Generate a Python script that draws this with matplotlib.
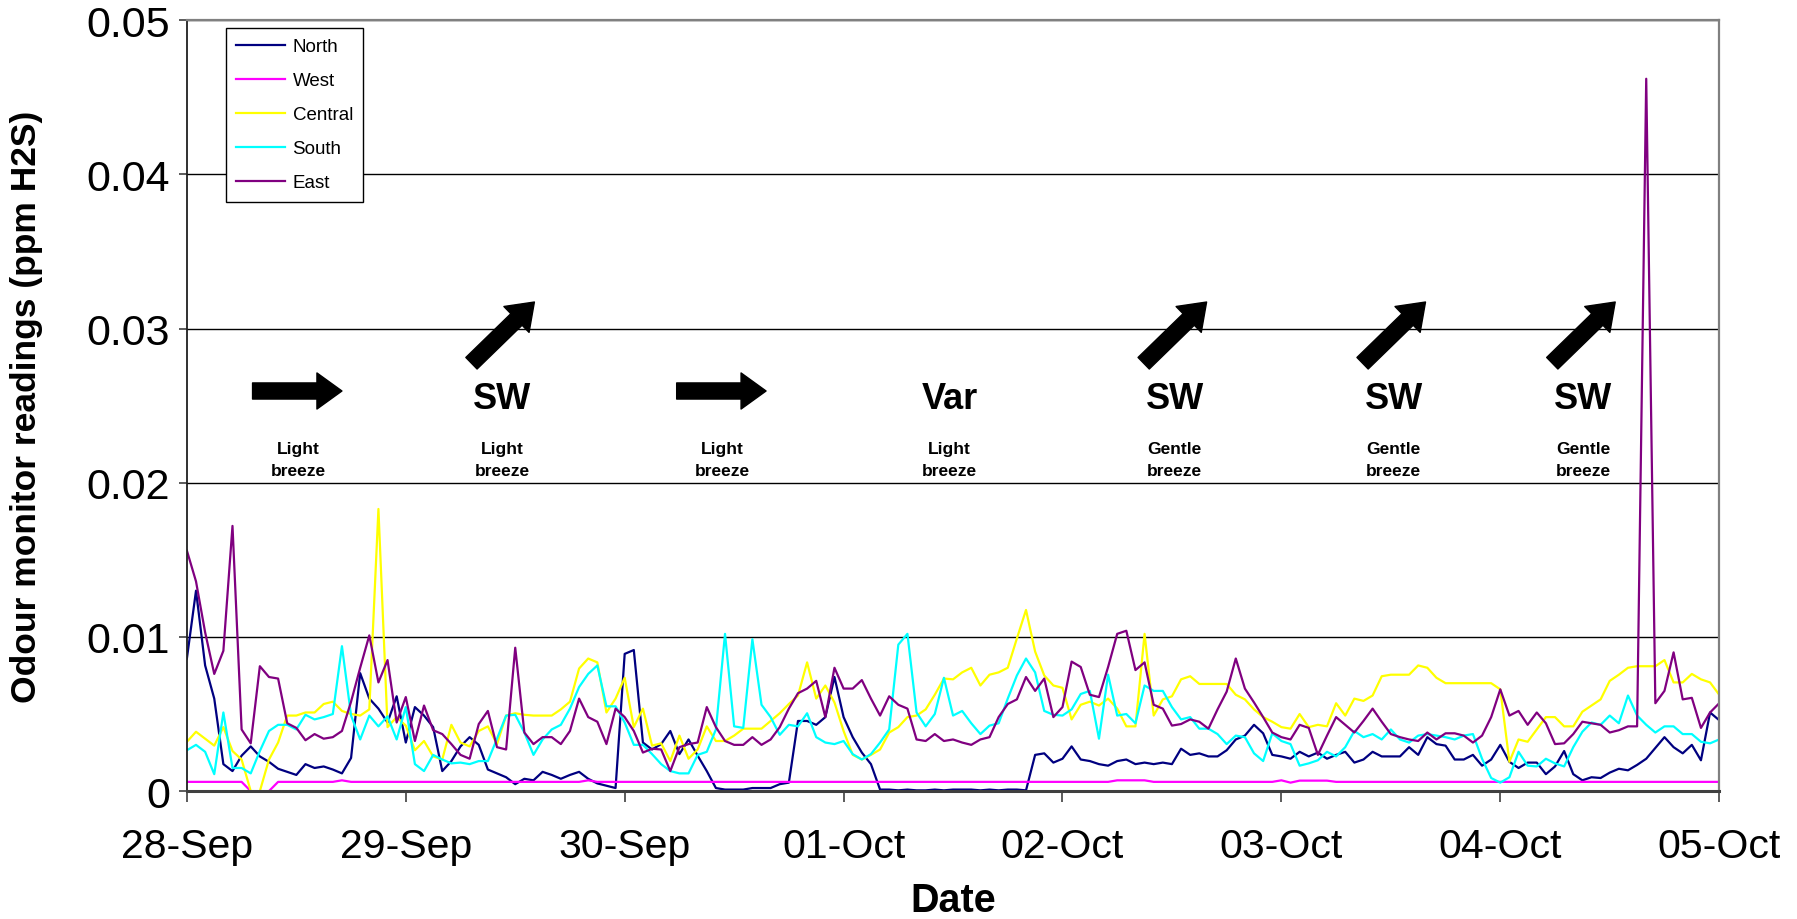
import numpy as np
import matplotlib
matplotlib.use("Agg")
import matplotlib.pyplot as plt

plt.rcParams['font.family'] = ['Liberation Sans', 'DejaVu Sans']

# hourly readings, 28-Sep 00:00 to 05-Oct 00:00, in units of 0.001 ppm H2S
north = [8.6, 13.0, 8.15, 6.0, 1.75, 1.3, 2.3, 2.9, 2.25, 1.9, 1.45, 1.25, 1.05, 1.75, 1.5, 1.6, 1.4, 1.15, 2.15, 7.65, 6.0, 5.35, 4.45, 6.15,
         3.15, 5.45, 4.9, 4.15, 1.3, 1.95, 2.9, 3.5, 3.0, 1.4, 1.15, 0.9, 0.45, 0.8, 0.7, 1.25, 1.05, 0.8, 1.05, 1.25, 0.8, 0.5, 0.35, 0.2,
         8.9, 9.15, 3.15, 2.7, 3.05, 3.9, 2.4, 3.35, 2.3, 1.3, 0.2, 0.1, 0.1, 0.1, 0.2, 0.2, 0.2, 0.45, 0.55, 4.55, 4.55, 4.3, 4.8, 7.4,
         4.8, 3.5, 2.5, 1.75, 0.1, 0.1, 0.05, 0.1, 0.05, 0.05, 0.1, 0.05, 0.1, 0.1, 0.1, 0.05, 0.1, 0.05, 0.1, 0.1, 0.05, 2.35, 2.45, 1.85,
         2.1, 2.9, 2.05, 1.95, 1.75, 1.65, 1.95, 2.05, 1.75, 1.85, 1.75, 1.85, 1.75, 2.75, 2.35, 2.45, 2.25, 2.25, 2.65, 3.35, 3.6, 4.3, 3.75, 2.35,
         2.25, 2.1, 2.55, 2.25, 2.5, 2.1, 2.35, 2.55, 1.85, 2.05, 2.55, 2.25, 2.25, 2.25, 2.85, 2.35, 3.5, 3.05, 2.95, 2.05, 2.05, 2.35, 1.65, 2.05,
         3.0, 1.9, 1.5, 1.85, 1.85, 1.1, 1.6, 2.6, 1.1, 0.7, 0.9, 0.85, 1.2, 1.45, 1.35, 1.7, 2.1, 2.8, 3.5, 2.85, 2.45, 3.0, 2.0, 5.1,
         4.6]

west = [0.6, 0.6, 0.6, 0.6, 0.6, 0.6, 0.6, 0, 0, 0, 0.6, 0.6, 0.6, 0.6, 0.6, 0.6, 0.6, 0.7, 0.6, 0.6, 0.6, 0.6, 0.6, 0.6,
        0.6, 0.6, 0.6, 0.6, 0.6, 0.6, 0.6, 0.6, 0.6, 0.6, 0.6, 0.6, 0.6, 0.6, 0.6, 0.6, 0.6, 0.6, 0.6, 0.6, 0.7, 0.6, 0.6, 0.6,
        0.6, 0.6, 0.6, 0.6, 0.6, 0.6, 0.6, 0.6, 0.6, 0.6, 0.6, 0.6, 0.6, 0.6, 0.6, 0.6, 0.6, 0.6, 0.6, 0.6, 0.6, 0.6, 0.6, 0.6,
        0.6, 0.6, 0.6, 0.6, 0.6, 0.6, 0.6, 0.6, 0.6, 0.6, 0.6, 0.6, 0.6, 0.6, 0.6, 0.6, 0.6, 0.6, 0.6, 0.6, 0.6, 0.6, 0.6, 0.6,
        0.6, 0.6, 0.6, 0.6, 0.6, 0.6, 0.7, 0.7, 0.7, 0.7, 0.6, 0.6, 0.6, 0.6, 0.6, 0.6, 0.6, 0.6, 0.6, 0.6, 0.6, 0.6, 0.6, 0.6,
        0.7, 0.55, 0.68, 0.68, 0.68, 0.68, 0.6, 0.6, 0.6, 0.6, 0.6, 0.6, 0.6, 0.6, 0.6, 0.6, 0.6, 0.6, 0.6, 0.6, 0.6, 0.6, 0.6, 0.6,
        0.6, 0.6, 0.6, 0.6, 0.6, 0.6, 0.6, 0.6, 0.6, 0.6, 0.6, 0.6, 0.6, 0.6, 0.6, 0.6, 0.6, 0.6, 0.6, 0.6, 0.6, 0.6, 0.6, 0.6,
        0.6]

central = [3.2, 3.85, 3.4, 2.95, 4.15, 2.6, 2.05, 0, 0, 2.05, 3.15, 4.9, 4.9, 5.1, 5.1, 5.65, 5.8, 5.2, 5.0, 4.9, 5.3, 18.3, 4.15, 4.8,
           4.25, 2.65, 3.25, 2.25, 2.05, 4.3, 3.15, 2.9, 3.9, 4.2, 3.05, 4.9, 5.05, 4.95, 4.9, 4.9, 4.9, 5.3, 5.8, 7.95, 8.6, 8.35, 5.1, 6.0,
           7.35, 4.15, 5.35, 2.95, 3.1, 1.95, 3.6, 2.1, 2.7, 4.2, 3.25, 3.25, 3.6, 4.05, 4.05, 4.05, 4.55, 5.05, 5.65, 6.2, 8.35, 6.0, 6.85, 5.75,
           3.9, 2.35, 2.05, 2.35, 2.7, 3.8, 4.15, 4.8, 4.9, 5.3, 6.25, 7.3, 7.25, 7.7, 8.0, 6.85, 7.55, 7.7, 8.0, 9.9, 11.75, 9.05, 7.5, 6.85,
           6.7, 4.65, 5.6, 5.8, 5.55, 6.0, 5.35, 4.2, 4.2, 10.2, 4.9, 5.95, 6.15, 7.25, 7.45, 6.95, 6.95, 6.95, 6.95, 6.25, 5.95, 5.3, 4.8, 4.5,
           4.15, 4.05, 5.0, 4.15, 4.3, 4.2, 5.7, 4.9, 6.0, 5.85, 6.2, 7.45, 7.55, 7.55, 7.55, 8.15, 8.0, 7.35, 7.0, 7.0, 7.0, 7.0, 7.0, 7.0,
           6.6, 1.9, 3.35, 3.2, 4.0, 4.8, 4.8, 4.2, 4.2, 5.15, 5.55, 5.95, 7.15, 7.55, 8.0, 8.1, 8.1, 8.1, 8.5, 7.05, 7.05, 7.6, 7.25, 7.05,
           6.25]

south = [2.65, 3.0, 2.55, 1.1, 5.1, 1.5, 1.5, 1.15, 2.6, 3.9, 4.3, 4.3, 4.0, 4.95, 4.65, 4.8, 5.0, 9.4, 4.9, 3.35, 4.9, 4.2, 4.85, 3.35,
         5.45, 1.75, 1.3, 2.35, 2.05, 1.8, 1.85, 1.75, 1.95, 1.95, 3.4, 4.9, 4.95, 3.8, 2.35, 3.35, 4.0, 4.3, 5.35, 6.75, 7.6, 8.15, 5.5, 5.5,
         4.45, 3.0, 3.0, 2.4, 1.75, 1.3, 1.15, 1.15, 2.35, 2.55, 4.0, 10.2, 4.2, 4.1, 9.85, 5.6, 4.8, 3.65, 4.3, 4.2, 5.05, 3.5, 3.15, 3.05,
         3.25, 2.4, 2.05, 2.4, 3.15, 4.0, 9.5, 10.2, 5.1, 4.2, 5.0, 7.35, 4.9, 5.2, 4.4, 3.7, 4.25, 4.4, 6.0, 7.5, 8.6, 7.7, 5.2, 4.95,
         4.9, 5.3, 6.3, 6.5, 3.4, 7.55, 4.9, 5.0, 4.4, 6.85, 6.5, 6.5, 5.45, 4.65, 4.8, 4.05, 4.05, 3.7, 3.05, 3.6, 3.5, 2.45, 1.95, 3.75,
         3.25, 3.05, 1.65, 1.8, 2.0, 2.55, 2.25, 2.85, 3.9, 3.5, 3.7, 3.35, 4.0, 3.35, 3.15, 3.6, 3.7, 3.6, 3.5, 3.35, 3.6, 3.7, 2.1, 0.85,
         0.55, 0.9, 2.55, 1.65, 1.6, 2.1, 1.8, 1.6, 2.85, 3.85, 4.45, 4.3, 4.9, 4.4, 6.2, 4.9, 4.3, 3.8, 4.2, 4.2, 3.7, 3.7, 3.2, 3.1,
         3.35]

east = [15.6, 13.6, 10.3, 7.6, 9.1, 17.2, 4.0, 3.1, 8.1, 7.4, 7.3, 4.4, 4.1, 3.3, 3.7, 3.4, 3.5, 3.9, 5.8, 8.0, 10.1, 7.05, 8.5, 4.45,
        6.1, 3.25, 5.55, 3.95, 3.7, 3.05, 2.35, 2.1, 4.35, 5.2, 2.85, 2.7, 9.3, 3.8, 3.05, 3.5, 3.5, 3.05, 3.9, 6.0, 4.8, 4.5, 3.05, 5.35,
        4.8, 3.9, 2.5, 2.75, 2.7, 1.3, 2.85, 3.05, 3.15, 5.45, 4.15, 3.25, 3.0, 3.0, 3.5, 3.0, 3.35, 4.15, 5.35, 6.35, 6.65, 7.15, 4.8, 8.0,
        6.65, 6.65, 7.2, 6.0, 4.9, 6.15, 5.6, 5.35, 3.35, 3.25, 3.7, 3.25, 3.35, 3.15, 3.0, 3.35, 3.5, 4.8, 5.65, 5.95, 7.4, 6.5, 7.3, 4.8,
        5.45, 8.4, 8.05, 6.25, 6.1, 8.05, 10.2, 10.4, 7.85, 8.35, 5.6, 5.35, 4.25, 4.35, 4.65, 4.5, 4.05, 5.3, 6.45, 8.6, 6.65, 5.75, 4.8, 3.8,
        3.5, 3.35, 4.3, 4.1, 2.35, 3.6, 4.8, 4.3, 3.8, 4.55, 5.35, 4.5, 3.7, 3.5, 3.35, 3.25, 3.8, 3.35, 3.75, 3.75, 3.6, 3.15, 3.6, 4.8,
        6.6, 4.9, 5.2, 4.3, 5.1, 4.4, 3.05, 3.1, 3.7, 4.5, 4.4, 4.3, 3.8, 3.95, 4.2, 4.2, 46.2, 5.7, 6.5, 9.0, 5.95, 6.05, 4.1, 5.1,
        5.7]

day_labels = ['28-Sep', '29-Sep', '30-Sep', '01-Oct', '02-Oct', '03-Oct', '04-Oct', '05-Oct']

# wind notes: centre hour, direction text, strength text, arrow kind
wind_x = [12.2, 34.6, 58.7, 83.6, 108.3, 132.3, 153.1]
wind_dir = ['', 'SW', '', 'Var', 'SW', 'SW', 'SW']
wind_strength = ['Light\nbreeze', 'Light\nbreeze', 'Light\nbreeze', 'Light\nbreeze',
                 'Gentle\nbreeze', 'Gentle\nbreeze', 'Gentle\nbreeze']
wind_arrow = ['E', 'NE', 'E', None, 'NE', 'NE', 'NE']

hours = np.arange(len(north))
series = [('North', north, '#000080'), ('West', west, '#FF00FF'),
          ('Central', central, '#FFFF00'), ('South', south, '#00FFFF'),
          ('East', east, '#800080')]

fig = plt.figure(figsize=(17.97, 9.2), dpi=100)
ax = fig.add_axes([0.1040, 0.139, 0.8527, 0.838])

for name, vals, col in series:
    ax.plot(hours, np.array(vals) / 1000.0, color=col, lw=1.6, label=name)

ax.set_xlim(0, 168)
ax.set_ylim(0, 0.05)
ax.set_xticks(np.arange(0, 169, 24))
ax.set_xticklabels(day_labels)
ax.set_yticks([0, 0.01, 0.02, 0.03, 0.04, 0.05])
ax.set_yticklabels(['0', '0.01', '0.02', '0.03', '0.04', '0.05'])
ax.tick_params(axis='x', labelsize=29.5, length=8, width=1.2, color='#404040', pad=18)
ax.tick_params(axis='y', labelsize=31, length=6, width=1.2, color='#404040', pad=6)
ax.grid(axis='y', color='black', lw=1)
ax.set_axisbelow(True)

ax.spines['left'].set_color('#202020')
ax.spines['left'].set_linewidth(1.3)
ax.spines['bottom'].set_color('#404040')
ax.spines['bottom'].set_linewidth(2.2)
for s in ['top', 'right']:
    ax.spines[s].set_color('#808080')
    ax.spines[s].set_linewidth(1.6)

ax.set_xlabel('Date', fontsize=28.5, fontweight='bold')
ax.xaxis.set_label_coords(0.5, -0.117)
ax.set_ylabel('Odour monitor readings (ppm H2S)', fontsize=25.5, fontweight='bold')
ax.yaxis.set_label_coords(-0.094, 0.5)

leg = ax.legend(loc='upper left', bbox_to_anchor=(0.0255, 0.99), borderaxespad=0,
                fontsize=13.5, labelspacing=0.9, handlelength=2.6, handletextpad=0.4,
                borderpad=0.55, fancybox=False, framealpha=1, edgecolor='black')
leg.get_frame().set_linewidth(1.0)

arrow_style = 'simple,head_width=1.3,head_length=0.9,tail_width=0.58'
for xc, d, s, kind in zip(wind_x, wind_dir, wind_strength, wind_arrow):
    if d:
        ax.text(xc, 0.02548, d, fontsize=26, fontweight='bold', ha='center', va='center')
    ax.text(xc, 0.0215, s, fontsize=12.5, fontweight='bold', ha='center', va='center',
            linespacing=1.55)
    if kind == 'E':
        tail, head = (xc - 5.0, 0.02595), (xc + 4.8, 0.02595)
    elif kind == 'NE':
        tail, head = (xc - 3.4, 0.02775), (xc + 3.5, 0.03172)
    else:
        continue
    ax.annotate('', xy=head, xytext=tail,
                arrowprops=dict(arrowstyle=arrow_style, fc='black', ec='black',
                                mutation_scale=20, shrinkA=0, shrinkB=0))

fig.savefig('out.png', dpi=100)
